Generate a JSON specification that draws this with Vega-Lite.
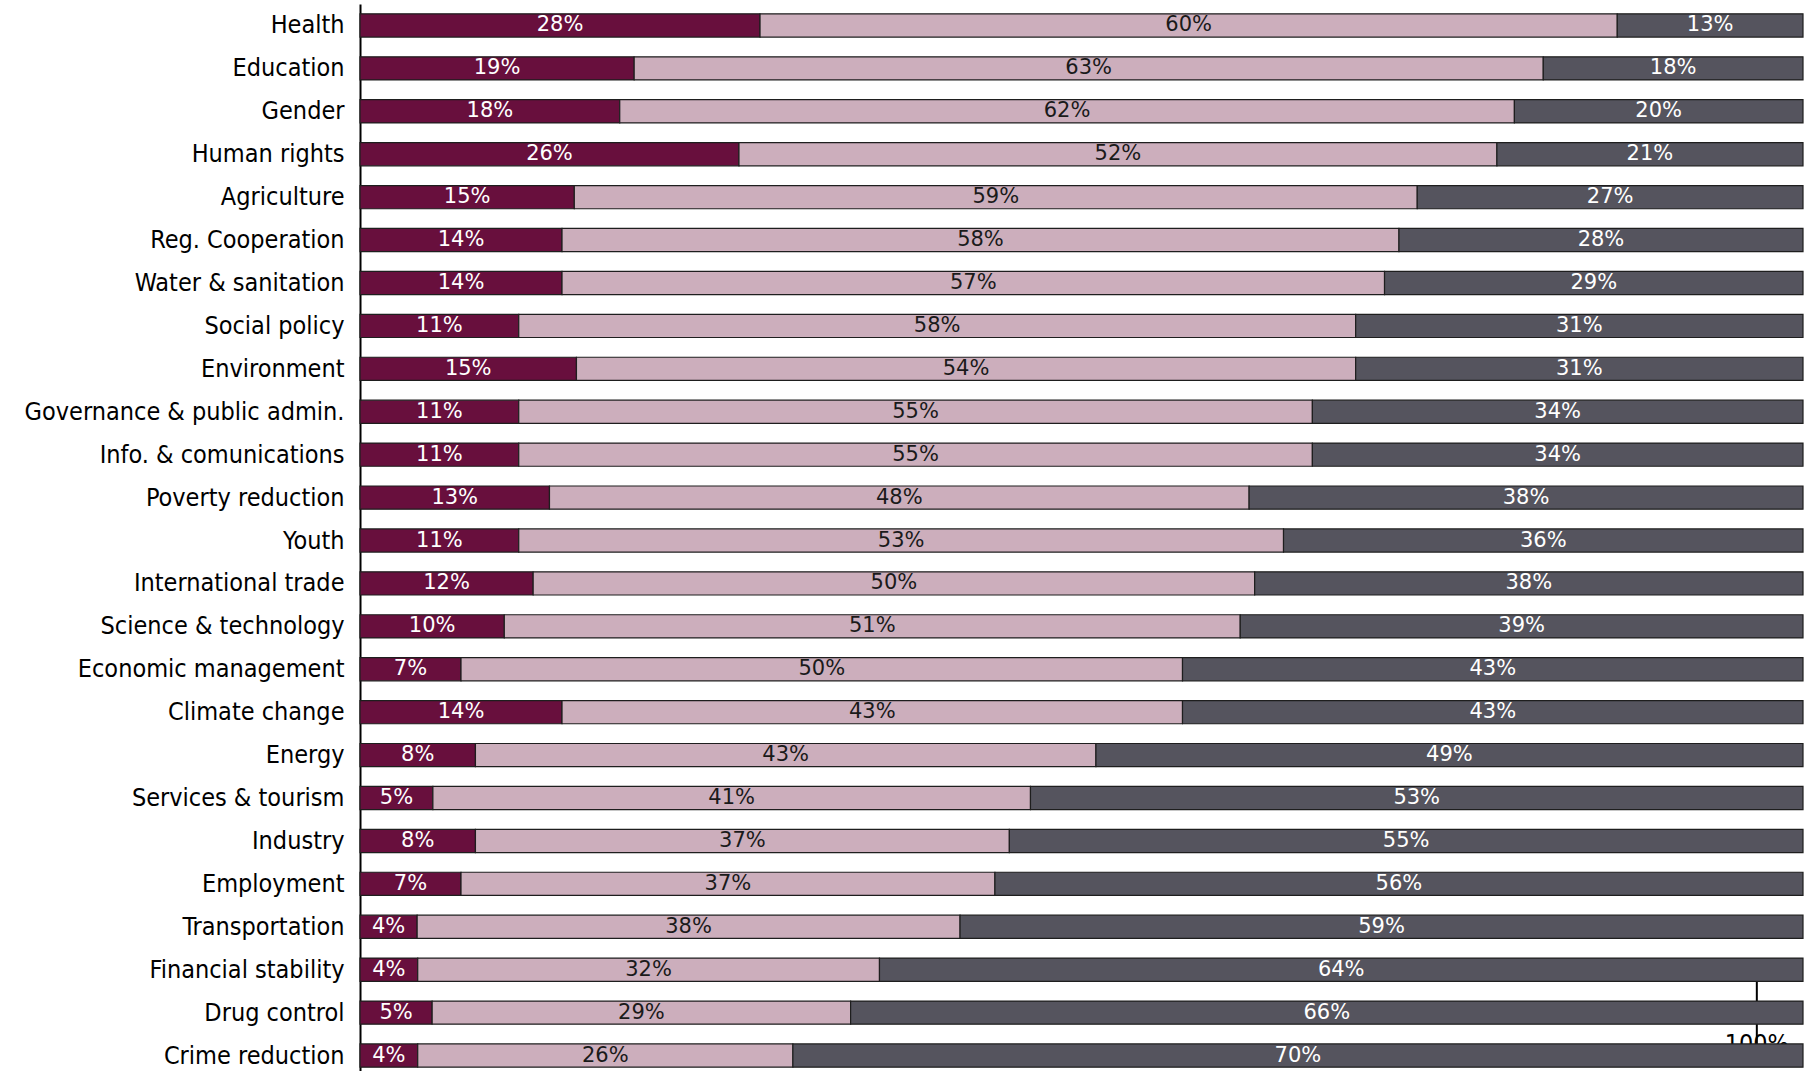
{
  "$schema": "https://vega.github.io/schema/vega-lite/v6.json",
  "autosize": {"type": "none"},
  "width": 1443,
  "height": 1073,
  "padding": {"left": 360, "top": 4, "right": 7, "bottom": 0},
  "background": "white",
  "params": [
    {"name": "cats", "value": ["Health", "Education", "Gender", "Human rights", "Agriculture", "Reg. Cooperation", "Water & sanitation", "Social policy", "Environment", "Governance & public admin.", "Info. & comunications", "Poverty reduction", "Youth", "International trade", "Science & technology", "Economic management", "Climate change", "Energy", "Services & tourism", "Industry", "Employment", "Transportation", "Financial stability", "Drug control", "Crime reduction"]}
  ],
  "datasets": {
    "bars": [
      {"cat": "Health", "seg": "A", "order": 1, "value": 0.28},
      {"cat": "Health", "seg": "B", "order": 2, "value": 0.60},
      {"cat": "Health", "seg": "C", "order": 3, "value": 0.13},
      {"cat": "Education", "seg": "A", "order": 1, "value": 0.19},
      {"cat": "Education", "seg": "B", "order": 2, "value": 0.63},
      {"cat": "Education", "seg": "C", "order": 3, "value": 0.18},
      {"cat": "Gender", "seg": "A", "order": 1, "value": 0.18},
      {"cat": "Gender", "seg": "B", "order": 2, "value": 0.62},
      {"cat": "Gender", "seg": "C", "order": 3, "value": 0.20},
      {"cat": "Human rights", "seg": "A", "order": 1, "value": 0.26},
      {"cat": "Human rights", "seg": "B", "order": 2, "value": 0.52},
      {"cat": "Human rights", "seg": "C", "order": 3, "value": 0.21},
      {"cat": "Agriculture", "seg": "A", "order": 1, "value": 0.15},
      {"cat": "Agriculture", "seg": "B", "order": 2, "value": 0.59},
      {"cat": "Agriculture", "seg": "C", "order": 3, "value": 0.27},
      {"cat": "Reg. Cooperation", "seg": "A", "order": 1, "value": 0.14},
      {"cat": "Reg. Cooperation", "seg": "B", "order": 2, "value": 0.58},
      {"cat": "Reg. Cooperation", "seg": "C", "order": 3, "value": 0.28},
      {"cat": "Water & sanitation", "seg": "A", "order": 1, "value": 0.14},
      {"cat": "Water & sanitation", "seg": "B", "order": 2, "value": 0.57},
      {"cat": "Water & sanitation", "seg": "C", "order": 3, "value": 0.29},
      {"cat": "Social policy", "seg": "A", "order": 1, "value": 0.11},
      {"cat": "Social policy", "seg": "B", "order": 2, "value": 0.58},
      {"cat": "Social policy", "seg": "C", "order": 3, "value": 0.31},
      {"cat": "Environment", "seg": "A", "order": 1, "value": 0.15},
      {"cat": "Environment", "seg": "B", "order": 2, "value": 0.54},
      {"cat": "Environment", "seg": "C", "order": 3, "value": 0.31},
      {"cat": "Governance & public admin.", "seg": "A", "order": 1, "value": 0.11},
      {"cat": "Governance & public admin.", "seg": "B", "order": 2, "value": 0.55},
      {"cat": "Governance & public admin.", "seg": "C", "order": 3, "value": 0.34},
      {"cat": "Info. & comunications", "seg": "A", "order": 1, "value": 0.11},
      {"cat": "Info. & comunications", "seg": "B", "order": 2, "value": 0.55},
      {"cat": "Info. & comunications", "seg": "C", "order": 3, "value": 0.34},
      {"cat": "Poverty reduction", "seg": "A", "order": 1, "value": 0.13},
      {"cat": "Poverty reduction", "seg": "B", "order": 2, "value": 0.48},
      {"cat": "Poverty reduction", "seg": "C", "order": 3, "value": 0.38},
      {"cat": "Youth", "seg": "A", "order": 1, "value": 0.11},
      {"cat": "Youth", "seg": "B", "order": 2, "value": 0.53},
      {"cat": "Youth", "seg": "C", "order": 3, "value": 0.36},
      {"cat": "International trade", "seg": "A", "order": 1, "value": 0.12},
      {"cat": "International trade", "seg": "B", "order": 2, "value": 0.50},
      {"cat": "International trade", "seg": "C", "order": 3, "value": 0.38},
      {"cat": "Science & technology", "seg": "A", "order": 1, "value": 0.10},
      {"cat": "Science & technology", "seg": "B", "order": 2, "value": 0.51},
      {"cat": "Science & technology", "seg": "C", "order": 3, "value": 0.39},
      {"cat": "Economic management", "seg": "A", "order": 1, "value": 0.07},
      {"cat": "Economic management", "seg": "B", "order": 2, "value": 0.50},
      {"cat": "Economic management", "seg": "C", "order": 3, "value": 0.43},
      {"cat": "Climate change", "seg": "A", "order": 1, "value": 0.14},
      {"cat": "Climate change", "seg": "B", "order": 2, "value": 0.43},
      {"cat": "Climate change", "seg": "C", "order": 3, "value": 0.43},
      {"cat": "Energy", "seg": "A", "order": 1, "value": 0.08},
      {"cat": "Energy", "seg": "B", "order": 2, "value": 0.43},
      {"cat": "Energy", "seg": "C", "order": 3, "value": 0.49},
      {"cat": "Services & tourism", "seg": "A", "order": 1, "value": 0.05},
      {"cat": "Services & tourism", "seg": "B", "order": 2, "value": 0.41},
      {"cat": "Services & tourism", "seg": "C", "order": 3, "value": 0.53},
      {"cat": "Industry", "seg": "A", "order": 1, "value": 0.08},
      {"cat": "Industry", "seg": "B", "order": 2, "value": 0.37},
      {"cat": "Industry", "seg": "C", "order": 3, "value": 0.55},
      {"cat": "Employment", "seg": "A", "order": 1, "value": 0.07},
      {"cat": "Employment", "seg": "B", "order": 2, "value": 0.37},
      {"cat": "Employment", "seg": "C", "order": 3, "value": 0.56},
      {"cat": "Transportation", "seg": "A", "order": 1, "value": 0.04},
      {"cat": "Transportation", "seg": "B", "order": 2, "value": 0.38},
      {"cat": "Transportation", "seg": "C", "order": 3, "value": 0.59},
      {"cat": "Financial stability", "seg": "A", "order": 1, "value": 0.04},
      {"cat": "Financial stability", "seg": "B", "order": 2, "value": 0.32},
      {"cat": "Financial stability", "seg": "C", "order": 3, "value": 0.64},
      {"cat": "Drug control", "seg": "A", "order": 1, "value": 0.05},
      {"cat": "Drug control", "seg": "B", "order": 2, "value": 0.29},
      {"cat": "Drug control", "seg": "C", "order": 3, "value": 0.66},
      {"cat": "Crime reduction", "seg": "A", "order": 1, "value": 0.04},
      {"cat": "Crime reduction", "seg": "B", "order": 2, "value": 0.26},
      {"cat": "Crime reduction", "seg": "C", "order": 3, "value": 0.70}
    ],
    "stray": [
      {"cat": "Crime reduction", "cat2": "Financial stability", "pos": 0.968, "label": "100%"}
    ]
  },
  "layer": [
    {
      "data": {"name": "stray"},
      "mark": {"type": "rule", "color": "black", "strokeWidth": 2},
      "encoding": {
        "y": {"field": "cat2", "type": "nominal", "sort": {"expr": "cats"}},
        "y2": {"field": "cat"},
        "x": {"field": "pos", "type": "quantitative"}
      }
    },
    {
      "data": {"name": "stray"},
      "mark": {"type": "text", "font": "DejaVu Sans Condensed, Liberation Sans", "fontSize": 25, "color": "black", "baseline": "top", "dy": -24},
      "encoding": {
        "y": {"field": "cat", "type": "nominal", "sort": {"expr": "cats"}},
        "x": {"field": "pos", "type": "quantitative"},
        "text": {"field": "label"}
      }
    },
    {
      "data": {"name": "bars"},
      "mark": {"type": "bar", "stroke": "#1e1e1e", "strokeWidth": 1.2},
      "encoding": {
        "x": {"field": "value", "type": "quantitative", "stack": "normalize"},
        "order": {"field": "order", "type": "quantitative"},
        "color": {"field": "seg", "type": "nominal", "legend": null,
          "scale": {"domain": ["A", "B", "C"], "range": ["#680f3d", "#ccaebc", "#55545e"]}}
      }
    },
    {
      "data": {"name": "bars"},
      "mark": {"type": "text", "font": "DejaVu Sans", "fontSize": 21, "align": "center", "baseline": "middle"},
      "encoding": {
        "x": {"field": "value", "type": "quantitative", "stack": "normalize", "bandPosition": 0.5},
        "order": {"field": "order", "type": "quantitative"},
        "detail": {"field": "seg", "type": "nominal"},
        "text": {"field": "value", "type": "quantitative", "format": ".0%"},
        "color": {"condition": {"test": "datum.order == 2", "value": "#1a1a1a"}, "value": "white"}
      }
    }
  ],
  "encoding": {
    "y": {
      "field": "cat", "type": "nominal", "title": null,
      "sort": ["Health", "Education", "Gender", "Human rights", "Agriculture", "Reg. Cooperation", "Water & sanitation", "Social policy", "Environment", "Governance & public admin.", "Info. & comunications", "Poverty reduction", "Youth", "International trade", "Science & technology", "Economic management", "Climate change", "Energy", "Services & tourism", "Industry", "Employment", "Transportation", "Financial stability", "Drug control", "Crime reduction"],
      "scale": {"paddingInner": 0.46, "paddingOuter": 0.23},
      "axis": {"domain": true, "domainColor": "black", "domainWidth": 2, "ticks": false,
        "labelFont": "DejaVu Sans Condensed, Liberation Sans", "labelFontSize": 25, "labelColor": "black", "labelPadding": 16, "labelLimit": 400}
    }
  },
  "config": {"view": {"stroke": null}, "axisX": {"disable": true}}
}
